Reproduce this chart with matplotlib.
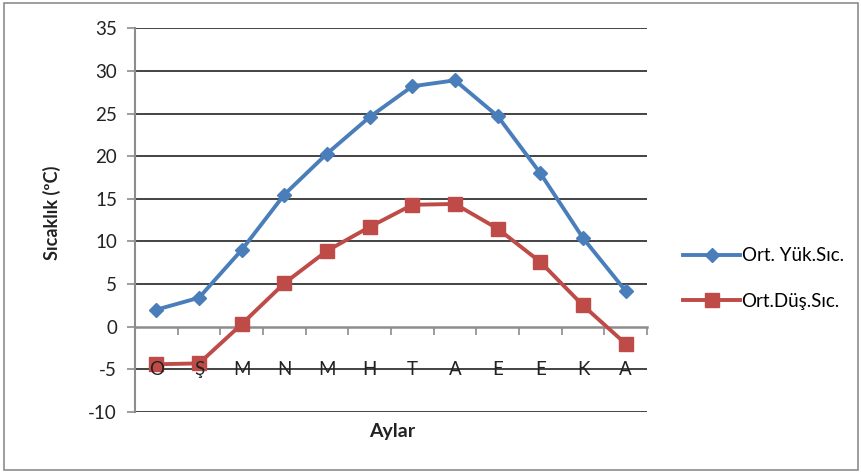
import matplotlib
matplotlib.use("Agg")
import matplotlib.pyplot as plt
from matplotlib.patches import Rectangle

plt.rcParams['font.family'] = ['Lato', 'DejaVu Sans']

months = ['O', 'Ş', 'M', 'N', 'M', 'H', 'T', 'A', 'E', 'E', 'K', 'A']
high_temp = [2.0, 3.4, 9.0, 15.5, 20.3, 24.6, 28.2, 28.9, 24.7, 18.0, 10.4, 4.2]
low_temp = [-4.4, -4.3, 0.3, 5.1, 8.9, 11.7, 14.3, 14.4, 11.5, 7.6, 2.5, -2.0]
y_ticks = [-10, -5, 0, 5, 10, 15, 20, 25, 30, 35]

W, H = 861, 472
fig = plt.figure(figsize=(W / 100, H / 100), dpi=100)
fig.patch.set_facecolor('white')

# outer chart border
fig.add_artist(Rectangle((4 / W, 1 - 470 / H), 854 / W, 467 / H,
                         transform=fig.transFigure, fill=False,
                         edgecolor='#8c8c8c', linewidth=1.2))

x0, x1 = 135, 647
y_top, y_bot = 28.3, 412
ax = fig.add_axes([x0 / W, 1 - y_bot / H, (x1 - x0) / W, (y_bot - y_top) / H])

x = list(range(len(months)))
blue = '#4A7EBB'
red = '#BE4B48'

ax.plot(x, high_temp, color=blue, linewidth=2.8, marker='D', markersize=7.5,
        markeredgecolor=blue, markerfacecolor=blue, label='Ort. Yük.Sıc.', zorder=4)
ax.plot(x, low_temp, color=red, linewidth=2.8, marker='s', markersize=10,
        markeredgecolor=red, markerfacecolor=red, label='Ort.Düş.Sıc.', zorder=4)

ax.set_xlim(-0.5, len(months) - 0.5)
ax.set_ylim(-10, 35)

# horizontal gridlines
for v in y_ticks:
    if v != 0:
        ax.axhline(v, color='#111111', linewidth=1.1, zorder=1)

ax.set_yticks(y_ticks)
ax.set_yticklabels([str(v) for v in y_ticks], fontsize=13.5)
ax.tick_params(axis='y', direction='out', length=6, width=1.2, color='#8c8c8c',
               pad=7, labelcolor='#222222')

# category axis sits at zero with tick marks between months
ax.spines['bottom'].set_position(('data', 0))
ax.spines['bottom'].set_color('#8c8c8c')
ax.spines['bottom'].set_linewidth(1.8)
ax.spines['bottom'].set_zorder(2)
ax.set_xticks(x)
ax.set_xticklabels(months, fontsize=13.5)
ax.set_xticks([i - 0.5 for i in range(len(months) + 1)], minor=True)
ax.tick_params(axis='x', which='major', length=0, pad=25, labelcolor='#222222')
ax.tick_params(axis='x', which='minor', direction='out', length=6, width=1.2,
               color='#8c8c8c')
ax.xaxis.set_zorder(5)

ax.spines['left'].set_color('#8c8c8c')
ax.spines['left'].set_linewidth(1.5)
ax.spines['top'].set_visible(False)
ax.spines['right'].set_visible(False)

fig.text(52 / W, 1 - 213 / H, 'Sıcaklık (ºC)', rotation=90, fontsize=13,
         fontweight='bold', ha='center', va='center', color='#222222')
fig.text(392 / W, 1 - 431 / H, 'Aylar', fontsize=14, fontweight='bold',
         ha='center', va='center', color='#222222')

leg = fig.legend(loc='center left', bbox_to_anchor=(674 / W, 1 - 278.5 / H),
                 frameon=False, fontsize=13.5, handlelength=3.0,
                 handletextpad=0.1, labelspacing=1.5, borderpad=0)

fig.savefig('out.png', dpi=100)
